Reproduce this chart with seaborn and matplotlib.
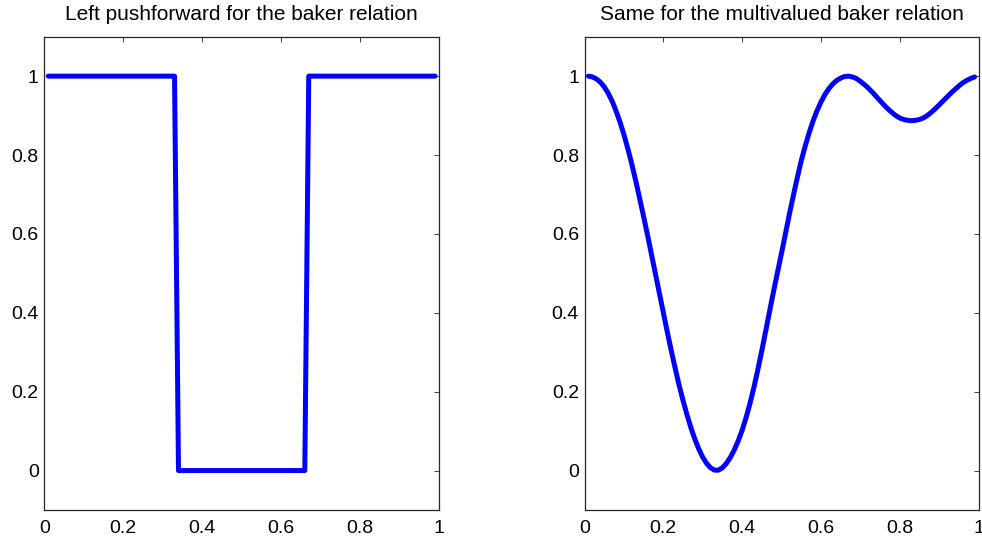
import matplotlib
matplotlib.use("Agg")
import matplotlib.pyplot as plt
import seaborn as sns
import pandas as pd

# Left panel: step function (breakpoints)
left_x = [0.01, 0.33, 0.34, 0.66, 0.67, 0.99]
left_y = [1.0, 1.0, 0.0, 0.0, 1.0, 1.0]

# Right panel: smooth curve values
right_x = [0.01, 0.02, 0.03, 0.04, 0.05, 0.06, 0.07, 0.08, 0.09, 0.10,
           0.11, 0.12, 0.13, 0.14, 0.15, 0.16, 0.17, 0.18, 0.19, 0.20,
           0.21, 0.22, 0.23, 0.24, 0.25, 0.26, 0.27, 0.28, 0.29, 0.30,
           0.31, 0.32, 0.33, 0.34, 0.35, 0.36, 0.37, 0.38, 0.39, 0.40,
           0.41, 0.42, 0.43, 0.44, 0.45, 0.46, 0.47, 0.48, 0.49, 0.50,
           0.51, 0.52, 0.53, 0.54, 0.55, 0.56, 0.57, 0.58, 0.59, 0.60,
           0.61, 0.62, 0.63, 0.64, 0.65, 0.66, 0.67, 0.68, 0.69, 0.70,
           0.71, 0.72, 0.73, 0.74, 0.75, 0.76, 0.77, 0.78, 0.79, 0.80,
           0.81, 0.82, 0.83, 0.84, 0.85, 0.86, 0.87, 0.88, 0.89, 0.90,
           0.91, 0.92, 0.93, 0.94, 0.95, 0.96, 0.97, 0.98, 0.99]
right_y = [1.000, 0.998, 0.993, 0.985, 0.973, 0.957, 0.937, 0.912, 0.884, 0.852,
           0.816, 0.777, 0.735, 0.690, 0.644, 0.597, 0.548, 0.499, 0.450, 0.401,
           0.352, 0.305, 0.260, 0.217, 0.178, 0.142, 0.109, 0.080, 0.055, 0.034,
           0.018, 0.007, 0.001, 0.001, 0.007, 0.018, 0.033, 0.052, 0.075, 0.102,
           0.134, 0.170, 0.211, 0.256, 0.304, 0.354, 0.405, 0.455, 0.503, 0.551,
           0.600, 0.650, 0.697, 0.742, 0.785, 0.822, 0.856, 0.886, 0.912, 0.934,
           0.953, 0.968, 0.980, 0.989, 0.995, 0.999, 1.000, 0.998, 0.994, 0.987,
           0.979, 0.970, 0.960, 0.949, 0.938, 0.927, 0.917, 0.908, 0.900, 0.894,
           0.890, 0.888, 0.887, 0.888, 0.890, 0.894, 0.900, 0.908, 0.917, 0.927,
           0.937, 0.947, 0.957, 0.966, 0.975, 0.983, 0.989, 0.994, 0.998]

titles = ["Left pushforward for the baker relation",
          "Same for the multivalued baker relation"]
xticks = [0, 0.2, 0.4, 0.6, 0.8, 1]
xticklabels = ["0", "0.2", "0.4", "0.6", "0.8", "1"]
yticks = [0, 0.2, 0.4, 0.6, 0.8, 1]
yticklabels = ["0", "0.2", "0.4", "0.6", "0.8", "1"]

sns.set_style("white")
plt.rcParams['font.family'] = ['Liberation Sans', 'DejaVu Sans']

fig = plt.figure(figsize=(9.82, 5.40), dpi=100)
ax1 = fig.add_axes([44.3 / 982, 1 - 510 / 540, (439 - 44.3) / 982, (510 - 36.7) / 540])
ax2 = fig.add_axes([584.5 / 982, 1 - 510 / 540, (978.5 - 584.5) / 982, (510 - 36.7) / 540])

df_left = pd.DataFrame({"x": left_x, "y": left_y})
df_right = pd.DataFrame({"x": right_x, "y": right_y})

for ax, df, title in [(ax1, df_left, titles[0]), (ax2, df_right, titles[1])]:
    sns.lineplot(data=df, x="x", y="y", ax=ax, color=(0, 0, 1), linewidth=3.6,
                 sort=False, estimator=None, solid_joinstyle="round")
    ax.set_xlim(0, 1)
    ax.set_ylim(-0.1, 1.1)
    ax.set_xticks(xticks)
    ax.set_xticklabels(xticklabels)
    ax.set_yticks(yticks)
    ax.set_yticklabels(yticklabels)
    ax.set_xlabel("")
    ax.set_ylabel("")
    ax.set_title(title, fontsize=15, pad=12, color="black")
    ax.tick_params(direction="in", length=3.4, width=0.6, color="#262626",
                   top=True, right=True, labelsize=14, colors="black")
    ax.tick_params(axis="x", pad=7)
    ax.tick_params(axis="y", pad=4)
    for s in ax.spines.values():
        s.set_visible(True)
        s.set_color("#262626")
        s.set_linewidth(0.9)

fig.savefig("out.png", dpi=100, facecolor="white")
